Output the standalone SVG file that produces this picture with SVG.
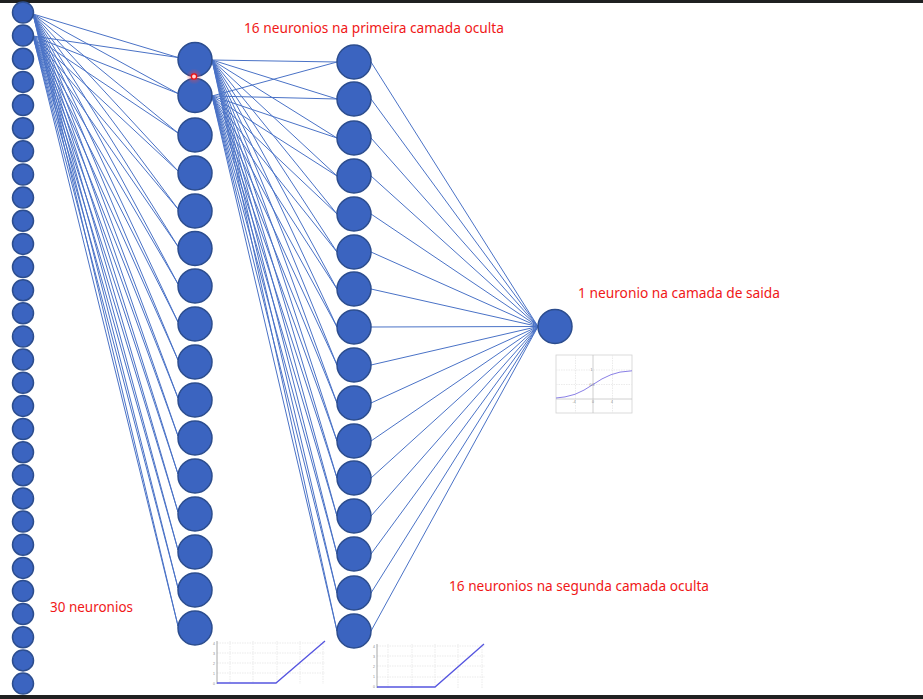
<svg xmlns="http://www.w3.org/2000/svg" width="923" height="699" viewBox="0 0 923 699">
<style>
.n{fill:#3b64c0;stroke:#2c4d8e;stroke-width:1.5}
.c line{stroke:#4a72c6;stroke-width:1}
.lbl{font-family:"Noto Sans","Liberation Sans",sans-serif;font-size:15px;fill:#f01818}
.grid{stroke:#e6e6e6;stroke-width:0.8;stroke-dasharray:1.5 1}
.ax{stroke:#a8a8a8;stroke-width:1}
.tk{font-family:"Liberation Sans",sans-serif;font-size:3.5px;fill:#888}
.fn{fill:none;stroke:#5555e0;stroke-width:1.3}
</style>
<defs>
<radialGradient id="glow">
<stop offset="0" stop-color="#ff4040" stop-opacity="0.6"/>
<stop offset="1" stop-color="#ff4040" stop-opacity="0"/>
</radialGradient>
</defs>
<rect x="0" y="0" width="923" height="699" fill="#ffffff"/>
<rect x="0" y="0" width="923" height="3" fill="#1f2021"/>
<rect x="0" y="695" width="923" height="4" fill="#1f2021"/>
<g id="connectors" class="c">
<line x1="33" y1="14" x2="178" y2="57.5"/><line x1="33" y1="14" x2="178" y2="93.5"/><line x1="33" y1="14" x2="178" y2="133"/><line x1="33" y1="14" x2="178" y2="171"/><line x1="33" y1="14" x2="178" y2="209"/><line x1="33" y1="14" x2="178" y2="246.5"/><line x1="33" y1="14" x2="178" y2="284"/><line x1="33" y1="14" x2="178" y2="322"/><line x1="33" y1="14" x2="178" y2="360"/><line x1="33" y1="14" x2="178" y2="398"/><line x1="33" y1="14" x2="178" y2="436"/><line x1="33" y1="14" x2="178" y2="474"/><line x1="33" y1="14" x2="178" y2="512"/><line x1="33" y1="14" x2="178" y2="550"/><line x1="33" y1="14" x2="178" y2="588"/><line x1="33" y1="14" x2="178" y2="626"/>
<line x1="33" y1="36" x2="178" y2="57.5"/><line x1="33" y1="36" x2="178" y2="93.5"/><line x1="33" y1="36" x2="178" y2="133"/><line x1="33" y1="36" x2="178" y2="171"/><line x1="33" y1="36" x2="178" y2="209"/><line x1="33" y1="36" x2="178" y2="246.5"/><line x1="33" y1="36" x2="178" y2="284"/><line x1="33" y1="36" x2="178" y2="322"/><line x1="33" y1="36" x2="178" y2="360"/><line x1="33" y1="36" x2="178" y2="398"/><line x1="33" y1="36" x2="178" y2="436"/><line x1="33" y1="36" x2="178" y2="474"/><line x1="33" y1="36" x2="178" y2="512"/><line x1="33" y1="36" x2="178" y2="550"/><line x1="33" y1="36" x2="178" y2="588"/><line x1="33" y1="36" x2="178" y2="626"/>
<line x1="212" y1="60" x2="337" y2="62"/><line x1="212" y1="60" x2="337" y2="99"/><line x1="212" y1="60" x2="337" y2="138"/><line x1="212" y1="60" x2="337" y2="176"/><line x1="212" y1="60" x2="337" y2="214"/><line x1="212" y1="60" x2="337" y2="252"/><line x1="212" y1="60" x2="337" y2="289"/><line x1="212" y1="60" x2="337" y2="327"/><line x1="212" y1="60" x2="337" y2="365"/><line x1="212" y1="60" x2="337" y2="403"/><line x1="212" y1="60" x2="337" y2="441"/><line x1="212" y1="60" x2="337" y2="478"/><line x1="212" y1="60" x2="337" y2="516"/><line x1="212" y1="60" x2="337" y2="554"/><line x1="212" y1="60" x2="337" y2="593"/><line x1="212" y1="60" x2="337" y2="631"/>
<line x1="212" y1="96" x2="337" y2="62"/><line x1="212" y1="96" x2="337" y2="99"/><line x1="212" y1="96" x2="337" y2="138"/><line x1="212" y1="96" x2="337" y2="176"/><line x1="212" y1="96" x2="337" y2="214"/><line x1="212" y1="96" x2="337" y2="252"/><line x1="212" y1="96" x2="337" y2="289"/><line x1="212" y1="96" x2="337" y2="327"/><line x1="212" y1="96" x2="337" y2="365"/><line x1="212" y1="96" x2="337" y2="403"/><line x1="212" y1="96" x2="337" y2="441"/><line x1="212" y1="96" x2="337" y2="478"/><line x1="212" y1="96" x2="337" y2="516"/><line x1="212" y1="96" x2="337" y2="554"/><line x1="212" y1="96" x2="337" y2="593"/><line x1="212" y1="96" x2="337" y2="631"/>
<line x1="371" y1="62" x2="538" y2="326.5"/><line x1="371" y1="99" x2="538" y2="326.5"/><line x1="371" y1="138" x2="538" y2="326.5"/><line x1="371" y1="176" x2="538" y2="326.5"/><line x1="371" y1="214" x2="538" y2="326.5"/><line x1="371" y1="252" x2="538" y2="326.5"/><line x1="371" y1="289" x2="538" y2="326.5"/><line x1="371" y1="327" x2="538" y2="326.5"/><line x1="371" y1="365" x2="538" y2="326.5"/><line x1="371" y1="403" x2="538" y2="326.5"/><line x1="371" y1="441" x2="538" y2="326.5"/><line x1="371" y1="478" x2="538" y2="326.5"/><line x1="371" y1="516" x2="538" y2="326.5"/><line x1="371" y1="554" x2="538" y2="326.5"/><line x1="371" y1="593" x2="538" y2="326.5"/><line x1="371" y1="631" x2="538" y2="326.5"/>
</g>
<g id="input-layer">
<circle class="n" cx="23" cy="12.5" r="10.5"/><circle class="n" cx="23" cy="35.6" r="10.5"/><circle class="n" cx="23" cy="58.8" r="10.5"/><circle class="n" cx="23" cy="81.9" r="10.5"/><circle class="n" cx="23" cy="105.1" r="10.5"/><circle class="n" cx="23" cy="128.2" r="10.5"/><circle class="n" cx="23" cy="151.3" r="10.5"/><circle class="n" cx="23" cy="174.5" r="10.5"/><circle class="n" cx="23" cy="197.6" r="10.5"/><circle class="n" cx="23" cy="220.8" r="10.5"/><circle class="n" cx="23" cy="243.9" r="10.5"/><circle class="n" cx="23" cy="267" r="10.5"/><circle class="n" cx="23" cy="290.2" r="10.5"/><circle class="n" cx="23" cy="313.3" r="10.5"/><circle class="n" cx="23" cy="336.5" r="10.5"/><circle class="n" cx="23" cy="359.6" r="10.5"/><circle class="n" cx="23" cy="382.7" r="10.5"/><circle class="n" cx="23" cy="405.9" r="10.5"/><circle class="n" cx="23" cy="429" r="10.5"/><circle class="n" cx="23" cy="452.2" r="10.5"/><circle class="n" cx="23" cy="475.3" r="10.5"/><circle class="n" cx="23" cy="498.4" r="10.5"/><circle class="n" cx="23" cy="521.6" r="10.5"/><circle class="n" cx="23" cy="544.7" r="10.5"/><circle class="n" cx="23" cy="567.9" r="10.5"/><circle class="n" cx="23" cy="591" r="10.5"/><circle class="n" cx="23" cy="614.1" r="10.5"/><circle class="n" cx="23" cy="637.3" r="10.5"/><circle class="n" cx="23" cy="660.4" r="10.5"/><circle class="n" cx="23" cy="683.6" r="10.5"/>
</g>
<g id="hidden-layer-1">
<circle class="n" cx="195" cy="59.5" r="17"/><circle class="n" cx="195" cy="95.5" r="17"/><circle class="n" cx="195" cy="135" r="17"/><circle class="n" cx="195" cy="173" r="17"/><circle class="n" cx="195" cy="211" r="17"/><circle class="n" cx="195" cy="248.5" r="17"/><circle class="n" cx="195" cy="286" r="17"/><circle class="n" cx="195" cy="324" r="17"/><circle class="n" cx="195" cy="362" r="17"/><circle class="n" cx="195" cy="400" r="17"/><circle class="n" cx="195" cy="438" r="17"/><circle class="n" cx="195" cy="476" r="17"/><circle class="n" cx="195" cy="514" r="17"/><circle class="n" cx="195" cy="552" r="17"/><circle class="n" cx="195" cy="590" r="17"/><circle class="n" cx="195" cy="628" r="17"/>
</g>
<g id="hidden-layer-2">
<circle class="n" cx="354" cy="62" r="17"/><circle class="n" cx="354" cy="99" r="17"/><circle class="n" cx="354" cy="138" r="17"/><circle class="n" cx="354" cy="176" r="17"/><circle class="n" cx="354" cy="214" r="17"/><circle class="n" cx="354" cy="252" r="17"/><circle class="n" cx="354" cy="289" r="17"/><circle class="n" cx="354" cy="327" r="17"/><circle class="n" cx="354" cy="365" r="17"/><circle class="n" cx="354" cy="403" r="17"/><circle class="n" cx="354" cy="441" r="17"/><circle class="n" cx="354" cy="478" r="17"/><circle class="n" cx="354" cy="516" r="17"/><circle class="n" cx="354" cy="554" r="17"/><circle class="n" cx="354" cy="593" r="17"/><circle class="n" cx="354" cy="631" r="17"/>
</g>
<g id="output-layer">
<circle class="n" cx="555" cy="326.5" r="17"/>
</g>
<g id="pointer">
<circle cx="194" cy="76.5" r="8" fill="url(#glow)"/>
<circle cx="194" cy="76.5" r="2.6" fill="#ffd6d6" stroke="#ee1111" stroke-width="1.3"/>
</g>
<g id="sigmoid-plot">
<rect x="556" y="355" width="76" height="58" fill="#ffffff" stroke="#d2d2d2" stroke-width="0.8"/>
<line class="grid" x1="575.5" y1="355" x2="575.5" y2="413"/><line class="grid" x1="612.5" y1="355" x2="612.5" y2="413"/>
<line class="grid" x1="556" y1="370" x2="632" y2="370"/><line class="grid" x1="556" y1="384.5" x2="632" y2="384.5"/>
<line x1="593" y1="355" x2="593" y2="413" stroke="#c4c4c4" stroke-width="0.8"/>
<line x1="556" y1="399" x2="632" y2="399" stroke="#c4c4c4" stroke-width="0.8"/>
<path fill="none" stroke="#8a80e6" stroke-width="1" d="M556,398 L565,396.9 L575,394.3 L584,390.1 L593,384.5 L602,378.9 L611,374.7 L620,372.1 L632,370.8"/>
<text class="tk" x="572.5" y="403">-4</text><text class="tk" x="592" y="403">0</text><text class="tk" x="611" y="403">4</text>
<text class="tk" x="590.5" y="371">1</text><text class="tk" x="589.5" y="385.5">0.5</text>
</g>
<g id="relu-plot-1">
<line class="grid" x1="217" y1="643" x2="325" y2="643"/><line class="grid" x1="217" y1="653" x2="325" y2="653"/><line class="grid" x1="217" y1="663" x2="325" y2="663"/><line class="grid" x1="217" y1="673" x2="325" y2="673"/>
<line class="grid" x1="230" y1="641" x2="230" y2="684"/><line class="grid" x1="253" y1="641" x2="253" y2="684"/><line class="grid" x1="277" y1="641" x2="277" y2="684"/><line class="grid" x1="300" y1="641" x2="300" y2="684"/><line class="grid" x1="323" y1="641" x2="323" y2="684"/>
<line class="ax" x1="217" y1="641" x2="217" y2="684"/>
<text class="tk" x="213" y="644.5">4</text><text class="tk" x="213" y="654.5">3</text><text class="tk" x="213" y="664.5">2</text><text class="tk" x="213" y="674.5">1</text><text class="tk" x="213" y="684.5">0</text>
<path class="fn" d="M217,683 L276,683 L325,641"/>
</g>
<g id="relu-plot-2">
<line class="grid" x1="377" y1="646" x2="485" y2="646"/><line class="grid" x1="377" y1="656" x2="485" y2="656"/><line class="grid" x1="377" y1="666" x2="485" y2="666"/><line class="grid" x1="377" y1="677" x2="485" y2="677"/>
<line class="grid" x1="388" y1="644" x2="388" y2="688"/><line class="grid" x1="412" y1="644" x2="412" y2="688"/><line class="grid" x1="435" y1="644" x2="435" y2="688"/><line class="grid" x1="458" y1="644" x2="458" y2="688"/><line class="grid" x1="482" y1="644" x2="482" y2="688"/>
<line class="ax" x1="377" y1="644" x2="377" y2="688"/>
<text class="tk" x="373" y="647.5">4</text><text class="tk" x="373" y="657.5">3</text><text class="tk" x="373" y="667.5">2</text><text class="tk" x="373" y="678">1</text><text class="tk" x="373" y="688">0</text>
<path class="fn" d="M377,687 L435,687 L484,644"/>
</g>
<g id="labels">
<text class="lbl" x="244" y="32.5" textLength="260" lengthAdjust="spacingAndGlyphs">16 neuronios na primeira camada oculta</text>
<text class="lbl" x="578" y="297.5" textLength="202" lengthAdjust="spacingAndGlyphs">1 neuronio na camada de saida</text>
<text class="lbl" x="449" y="590.5" textLength="260" lengthAdjust="spacingAndGlyphs">16 neuronios na segunda camada oculta</text>
<text class="lbl" x="50" y="612" textLength="83" lengthAdjust="spacingAndGlyphs">30 neuronios</text>
</g>
</svg>
